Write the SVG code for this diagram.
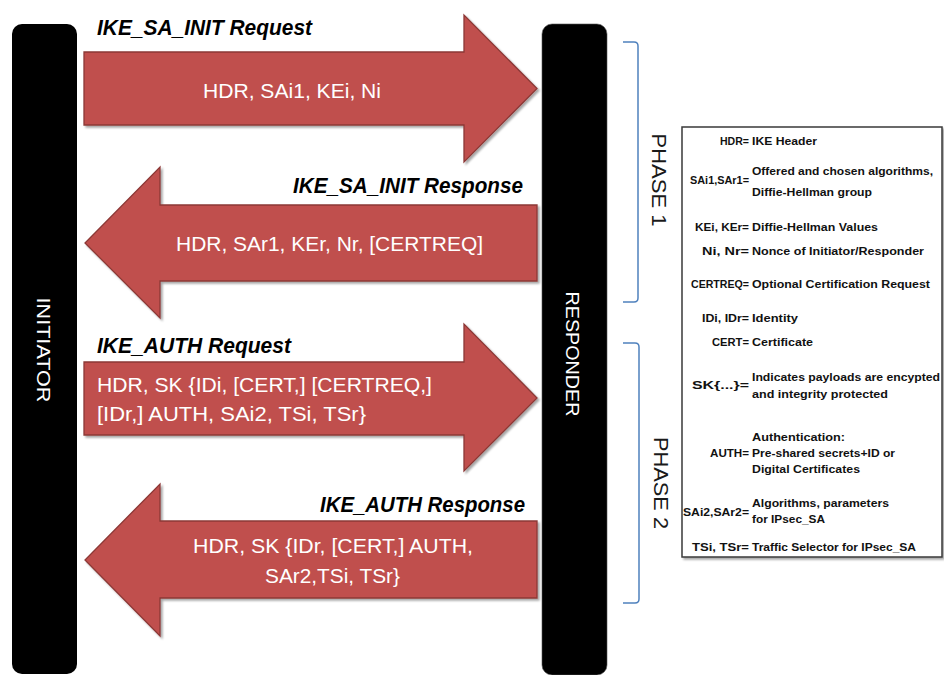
<svg xmlns="http://www.w3.org/2000/svg" width="944" height="675" viewBox="0 0 944 675">
  <style>
    .bar { fill: #000000; }
    .bar-label { font-family: "Liberation Sans", Arial, sans-serif; font-size: 19px; fill: #ffffff; text-anchor: middle; }
    .arrow { fill: #C0504D; stroke: #8C3836; stroke-width: 1.3; stroke-linejoin: miter; }
    .msg { font-family: "Liberation Sans", Arial, sans-serif; font-size: 21px; fill: #ffffff; }
    .title { font-family: "Liberation Sans", Arial, sans-serif; font-size: 22px; font-weight: bold; font-style: italic; fill: #000000; }
    .bracket { fill: none; stroke: #4F81BD; stroke-width: 1.5; }
    .phase { font-family: "Liberation Sans", Arial, sans-serif; font-size: 20px; fill: #1a1a1a; text-anchor: middle; }
    .legend-box { fill: #ffffff; stroke: #3a3a3a; stroke-width: 1.5; }
    .key { font-family: "Liberation Sans", Arial, sans-serif; font-size: 11px; font-weight: bold; fill: #111111; text-anchor: end; }
    .def { font-family: "Liberation Sans", Arial, sans-serif; font-size: 11px; font-weight: bold; fill: #111111; }
  </style>
  <defs>
    <filter id="soft-shadow" x="-5%" y="-5%" width="115%" height="115%">
      <feGaussianBlur in="SourceAlpha" stdDeviation="1.2"/>
      <feOffset dx="1.5" dy="1.5" result="s"/>
      <feComponentTransfer><feFuncA type="linear" slope="0.35"/></feComponentTransfer>
      <feMerge><feMergeNode/><feMergeNode in="SourceGraphic"/></feMerge>
    </filter>
  </defs>

  <rect width="944" height="675" fill="#ffffff"/>

  <!-- lifelines -->
  <g id="initiator">
    <rect class="bar" x="12" y="24" width="65" height="650" rx="10"/>
    <text class="bar-label" transform="translate(37,350) rotate(90)" textLength="105" lengthAdjust="spacingAndGlyphs">INITIATOR</text>
  </g>
  <g id="responder">
    <rect class="bar" x="542" y="24" width="65" height="651" rx="10" stroke="#555" stroke-width="0.6"/>
    <text class="bar-label" transform="translate(566,354) rotate(90)" textLength="125" lengthAdjust="spacingAndGlyphs">RESPONDER</text>
  </g>

  <!-- message arrows -->
  <g id="connectors">
    <g id="ike-sa-init-request">
      <path class="arrow" filter="url(#soft-shadow)" d="M84,52 H464 V15 L537,88.5 L464,162 V125 H84 Z"/>
      <text class="title" x="97" y="35" textLength="215" lengthAdjust="spacingAndGlyphs">IKE_SA_INIT Request</text>
      <text class="msg" x="292" y="98" text-anchor="middle" textLength="178" lengthAdjust="spacingAndGlyphs">HDR, SAi1, KEi, Ni</text>
    </g>
    <g id="ike-sa-init-response">
      <path class="arrow" filter="url(#soft-shadow)" d="M537,205 H160 V167 L85,243 L160,318 V281 H537 Z"/>
      <text class="title" x="523" y="193" text-anchor="end" textLength="230" lengthAdjust="spacingAndGlyphs">IKE_SA_INIT Response</text>
      <text class="msg" x="329.5" y="251" text-anchor="middle" textLength="307" lengthAdjust="spacingAndGlyphs">HDR, SAr1, KEr, Nr, [CERTREQ]</text>
    </g>
    <g id="ike-auth-request">
      <path class="arrow" filter="url(#soft-shadow)" d="M84,362 H464 V324 L537,398 L464,471 V435 H84 Z"/>
      <text class="title" x="97" y="353" textLength="194" lengthAdjust="spacingAndGlyphs">IKE_AUTH Request</text>
      <text class="msg" x="97" y="392" textLength="335" lengthAdjust="spacingAndGlyphs">HDR, SK {IDi, [CERT,] [CERTREQ,]</text>
      <text class="msg" x="97" y="421" textLength="269" lengthAdjust="spacingAndGlyphs">[IDr,] AUTH, SAi2, TSi, TSr}</text>
    </g>
    <g id="ike-auth-response">
      <path class="arrow" filter="url(#soft-shadow)" d="M537,521 H160 V484 L85,560 L160,636 V598 H537 Z"/>
      <text class="title" x="525" y="512" text-anchor="end" textLength="205" lengthAdjust="spacingAndGlyphs">IKE_AUTH Response</text>
      <text class="msg" x="333" y="553" text-anchor="middle" textLength="280" lengthAdjust="spacingAndGlyphs">HDR, SK {IDr, [CERT,] AUTH,</text>
      <text class="msg" x="332.5" y="583" text-anchor="middle" textLength="135" lengthAdjust="spacingAndGlyphs">SAr2,TSi, TSr}</text>
    </g>
  </g>

  <!-- phase brackets -->
  <g id="phase-1">
    <path class="bracket" d="M623,42 H634 Q638,42 638,46 V298 Q638,302 634,302 H623"/>
    <text class="phase" transform="translate(652,180) rotate(90)" textLength="93" lengthAdjust="spacingAndGlyphs">PHASE 1</text>
  </g>
  <g id="phase-2">
    <path class="bracket" d="M623,343 H635 Q639,343 639,347 V599 Q639,603 635,603 H623"/>
    <text class="phase" transform="translate(654,483) rotate(90)" textLength="92" lengthAdjust="spacingAndGlyphs">PHASE 2</text>
  </g>

  <!-- abbreviation legend: keys right-aligned on the "=" column, meanings after it -->
  <g id="legend">
    <rect class="legend-box" filter="url(#soft-shadow)" x="682" y="127" width="260" height="430"/>
    <text class="key" x="749" y="145" textLength="29" lengthAdjust="spacingAndGlyphs">HDR=</text>
    <text class="def" x="752" y="145" textLength="65" lengthAdjust="spacingAndGlyphs">IKE Header</text>

    <text class="key" x="749" y="184" textLength="59" lengthAdjust="spacingAndGlyphs">SAi1,SAr1=</text>
    <text class="def" x="752" y="175" textLength="181" lengthAdjust="spacingAndGlyphs">Offered and chosen algorithms,</text>
    <text class="def" x="752" y="196" textLength="120" lengthAdjust="spacingAndGlyphs">Diffie-Hellman group</text>

    <text class="key" x="749" y="231" textLength="54" lengthAdjust="spacingAndGlyphs">KEi, KEr=</text>
    <text class="def" x="752" y="231" textLength="126" lengthAdjust="spacingAndGlyphs">Diffie-Hellman Values</text>

    <text class="key" x="749" y="255" textLength="47" lengthAdjust="spacingAndGlyphs">Ni, Nr=</text>
    <text class="def" x="752" y="255" textLength="172" lengthAdjust="spacingAndGlyphs">Nonce of Initiator/Responder</text>

    <text class="key" x="749" y="288" textLength="58" lengthAdjust="spacingAndGlyphs">CERTREQ=</text>
    <text class="def" x="752" y="288" textLength="178" lengthAdjust="spacingAndGlyphs">Optional Certification Request</text>

    <text class="key" x="749" y="322" textLength="47" lengthAdjust="spacingAndGlyphs">IDi, IDr=</text>
    <text class="def" x="752" y="322" textLength="46" lengthAdjust="spacingAndGlyphs">Identity</text>

    <text class="key" x="749" y="346" textLength="37" lengthAdjust="spacingAndGlyphs">CERT=</text>
    <text class="def" x="752" y="346" textLength="61" lengthAdjust="spacingAndGlyphs">Certificate</text>

    <text class="key" x="749" y="389" textLength="57" lengthAdjust="spacingAndGlyphs">SK{...}=</text>
    <text class="def" x="752" y="381" textLength="188" lengthAdjust="spacingAndGlyphs">Indicates payloads are encypted</text>
    <text class="def" x="752" y="398" textLength="136" lengthAdjust="spacingAndGlyphs">and integrity protected</text>

    <text class="def" x="752" y="441" textLength="93" lengthAdjust="spacingAndGlyphs">Authentication:</text>
    <text class="key" x="749" y="457" textLength="39" lengthAdjust="spacingAndGlyphs">AUTH=</text>
    <text class="def" x="752" y="457" textLength="143" lengthAdjust="spacingAndGlyphs">Pre-shared secrets+ID or</text>
    <text class="def" x="752" y="473" textLength="108" lengthAdjust="spacingAndGlyphs">Digital Certificates</text>

    <text class="key" x="749" y="516" textLength="66" lengthAdjust="spacingAndGlyphs">SAi2,SAr2=</text>
    <text class="def" x="752" y="507" textLength="137" lengthAdjust="spacingAndGlyphs">Algorithms, parameters</text>
    <text class="def" x="752" y="523" textLength="73" lengthAdjust="spacingAndGlyphs">for IPsec_SA</text>

    <text class="key" x="749" y="551" textLength="57" lengthAdjust="spacingAndGlyphs">TSi, TSr=</text>
    <text class="def" x="752" y="551" textLength="164" lengthAdjust="spacingAndGlyphs">Traffic Selector for IPsec_SA</text>
  </g>
</svg>
